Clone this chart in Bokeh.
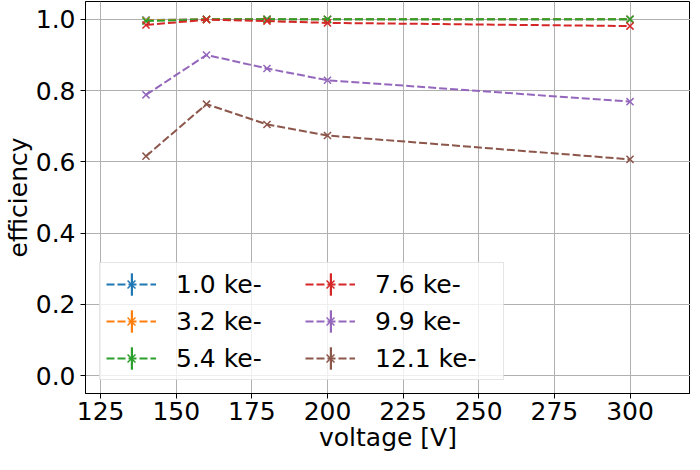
import numpy as np
from bokeh.plotting import figure
from bokeh.models import (ColumnDataSource, Legend, LegendItem, FixedTicker,
                          PrintfTickFormatter)
from bokeh.embed import file_html
from bokeh.resources import INLINE

voltage = [140, 160, 180, 200, 300]
eff_1_0 = [0.998, 1.0, 1.0, 1.0, 1.0]
eff_3_2 = [0.997, 1.0, 1.0, 1.0, 1.0]
eff_5_4 = [0.995, 1.0, 1.0, 1.0, 1.0]
eff_7_6 = [0.984, 0.999, 0.995, 0.990, 0.981]
eff_9_9 = [0.788, 0.900, 0.862, 0.829, 0.769]
eff_12_1 = [0.616, 0.762, 0.705, 0.674, 0.607]

labels = ["1.0 ke-", "3.2 ke-", "5.4 ke-", "7.6 ke-", "9.9 ke-", "12.1 ke-"]
series = [eff_1_0, eff_3_2, eff_5_4, eff_7_6, eff_9_9, eff_12_1]
colors = ["#1f77b4", "#ff7f0e", "#2ca02c", "#d62728", "#9467bd", "#8c564b"]

x_ticks = [125, 150, 175, 200, 225, 250, 275, 300]
y_ticks = [0.0, 0.2, 0.4, 0.6, 0.8, 1.0]
x_label = "voltage [V]"
y_label = "efficiency"

FONT = "DejaVu Sans"
FS = "25px"

p = figure(width=690, height=454, x_range=(120, 320), y_range=(-0.05, 1.05),
           output_backend="svg", toolbar_location=None,
           min_border=0, min_border_left=75, min_border_right=0,
           min_border_top=1, min_border_bottom=56)
p.outline_line_color = "black"
p.outline_line_width = 1
p.background_fill_color = "white"

for ax in (p.xaxis[0], p.yaxis[0]):
    ax.axis_line_color = "black"
    ax.axis_line_width = 1
    ax.major_tick_line_color = "black"
    ax.major_tick_line_width = 1
    ax.major_tick_out = 5
    ax.major_tick_in = 0
    ax.minor_tick_line_color = None
    ax.major_label_text_font = FONT
    ax.major_label_text_font_size = FS
    ax.major_label_text_color = "black"
    ax.axis_label_text_font = FONT
    ax.axis_label_text_font_size = FS
    ax.axis_label_text_font_style = "normal"
    ax.axis_label_text_color = "black"
    ax.axis_label_text_line_height = 1.0
    ax.major_label_text_line_height = 1.0

p.xaxis.ticker = FixedTicker(ticks=x_ticks)
p.yaxis.ticker = FixedTicker(ticks=y_ticks)
p.yaxis.formatter = PrintfTickFormatter(format="%.1f")
p.xaxis.axis_label = x_label
p.yaxis.axis_label = y_label
p.xaxis.major_label_standoff = 3
p.yaxis.major_label_standoff = 5
p.xaxis.axis_label_standoff = 0
p.yaxis.axis_label_standoff = 0

p.grid.grid_line_color = "#b0b0b0"
p.grid.grid_line_width = 1

items = []
bar_items = []
for lab, ys, col in zip(labels, series, colors):
    src = ColumnDataSource(data=dict(x=voltage, y=ys))
    lr = p.line("x", "y", source=src, line_color=col, line_width=2,
                line_dash="8 3")
    sr = p.scatter("x", "y", source=src, marker="x", size=10,
                   line_color=col, line_width=1.5)
    items.append(LegendItem(label=lab, renderers=[lr, sr]))
    # vertical error-bar symbol for the legend only (no data drawn)
    nan_src = ColumnDataSource(data=dict(x=[np.nan], top=[np.nan]))
    br = p.vbar(x="x", top="top", width=1, source=nan_src,
                fill_color=col, line_color=None)
    bar_items.append(LegendItem(label=" ", renderers=[br]))

GH = 28
LH = 30
SP = 7
PAD = 6
LW = 122
GW = 50
LS = 20
BW = 3


def style(lg, gw, ls, lw):
    lg.label_text_font = FONT
    lg.label_text_font_size = FS
    lg.label_text_color = "black"
    lg.glyph_width = gw
    lg.glyph_height = GH
    lg.label_height = LH
    lg.label_width = lw
    lg.label_standoff = ls
    lg.spacing = SP
    lg.padding = PAD
    lg.margin = 0


legend = Legend(items=items, location=(14, 13), orientation="vertical",
                nrows=3)
style(legend, GW, LS, LW)
legend.border_line_color = "#cccccc"
legend.border_line_width = 1
legend.background_fill_color = "white"
legend.background_fill_alpha = 0.8
p.add_layout(legend, "center")

bars = Legend(items=bar_items, location=(45, 20),
              orientation="vertical", nrows=3)
style(bars, BW, 0, GW + LS + LW - BW)
bars.border_line_color = None
bars.background_fill_alpha = 0
p.add_layout(bars, "center")

open("out.html", "w").write(file_html(p, INLINE))
